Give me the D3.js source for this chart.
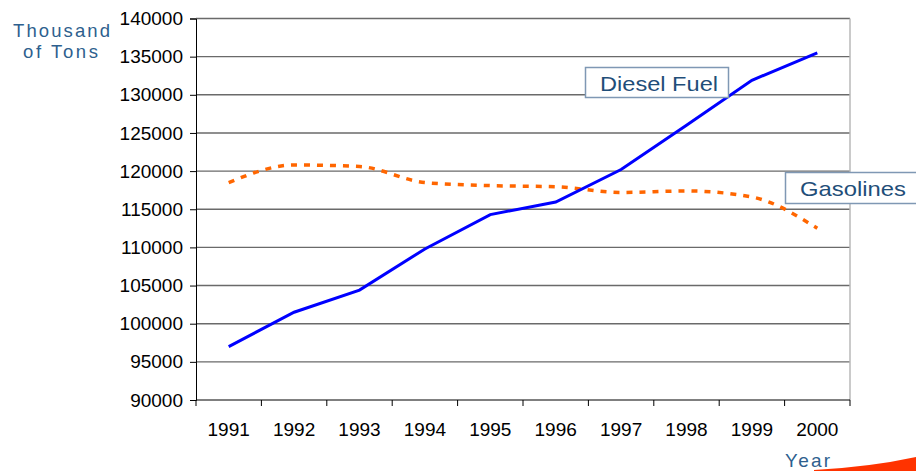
<!DOCTYPE html>
<html>
<head>
<meta charset="utf-8">
<script src="https://cdn.jsdelivr.net/npm/d3@7"></script>
<style>
  body { margin: 0; background: #fff; }
  svg { display: block; font-family: "Liberation Sans", Arial, sans-serif; }
</style>
</head>
<body>
<div id="chart"></div>
<script>
// donnees du graphique
const years = ["1991", "1992", "1993", "1994", "1995", "1996", "1997", "1998", "1999", "2000"];
const diesel = [97000, 101500, 104400, 109800, 114300, 115950, 120200, 126000, 131900, 135500];
const gasolines = [118500, 120800, 120600, 118500, 118100, 117950, 117200, 117400, 116600, 112500];
const yTicks = [90000, 95000, 100000, 105000, 110000, 115000, 120000, 125000, 130000, 135000, 140000];

const W = 916, H = 471;
const margin = { top: 18.5, right: 66, bottom: 71, left: 196 };
const width = W - margin.left - margin.right;
const height = H - margin.top - margin.bottom;

const svg = d3.select("#chart").append("svg")
    .attr("width", W)
    .attr("height", H);

const g = svg.append("g")
    .attr("transform", "translate(" + margin.left + "," + margin.top + ")");

// echelles
const x = d3.scaleBand().domain(years).range([0, width]);
const y = d3.scaleLinear().domain([90000, 140000]).range([height, 0]);

// lignes de grille
g.selectAll(".grid")
    .data(yTicks.slice(1))
    .enter()
    .append("line")
    .attr("x1", 0).attr("x2", width)
    .attr("y1", d => y(d)).attr("y2", d => y(d))
    .attr("stroke", "#6a6a6a")
    .attr("stroke-width", 1.4);

// bord droit
g.append("line")
    .attr("x1", width).attr("x2", width)
    .attr("y1", 0).attr("y2", height)
    .attr("stroke", "#b8b8b8")
    .attr("stroke-width", 1.5);

// axe Y
const yAxis = d3.axisLeft(y).tickValues(yTicks).tickSize(6).tickPadding(7).tickFormat(d3.format("d"));
g.append("g")
    .call(yAxis)
    .call(s => s.select(".domain").attr("stroke", "#000"))
    .selectAll("text")
    .attr("font-size", 19)
    .attr("fill", "#000");

// axe X, graduations entre les categories
const xAxisG = g.append("g").attr("transform", "translate(0," + height + ")");
xAxisG.append("line")
    .attr("x1", 0).attr("x2", width)
    .attr("stroke", "#000").attr("stroke-width", 1);
xAxisG.selectAll(".xt")
    .data(years.concat(["end"]))
    .enter()
    .append("line")
    .attr("x1", (d, i) => i < years.length ? x(d) : width)
    .attr("x2", (d, i) => i < years.length ? x(d) : width)
    .attr("y1", 0).attr("y2", 6)
    .attr("stroke", "#000");
xAxisG.selectAll("text")
    .data(years)
    .enter()
    .append("text")
    .attr("x", d => x(d) + x.bandwidth() / 2)
    .attr("y", 36)
    .attr("text-anchor", "middle")
    .attr("font-size", 19)
    .attr("fill", "#000")
    .text(d => d);

const cx = (d, i) => x(years[i]) + x.bandwidth() / 2;

// essence, courbe lissee pointillee
g.append("path")
    .datum(gasolines)
    .attr("fill", "none")
    .attr("stroke", "#FF6600")
    .attr("stroke-width", 3.5)
    .attr("stroke-dasharray", "6,7")
    .attr("d", d3.line().x(cx).y(d => y(d)).curve(d3.curveMonotoneX));

// diesel
g.append("path")
    .datum(diesel)
    .attr("fill", "none")
    .attr("stroke", "#0000FF")
    .attr("stroke-width", 3)
    .attr("d", d3.line().x(cx).y(d => y(d)));

// etiquettes des series
const labels = [
    { text: "Diesel Fuel", x: 585.5, y: 67.5, w: 143, h: 30, tx: 600, len: 118 },
    { text: "Gasolines", x: 785.5, y: 172.5, w: 140, h: 31, tx: 800, len: 106 }
];
labels.forEach(l => {
    svg.append("rect")
        .attr("x", l.x).attr("y", l.y)
        .attr("width", l.w).attr("height", l.h)
        .attr("fill", "#fff")
        .attr("stroke", "#7f98b4")
        .attr("stroke-width", 1.5);
    svg.append("text")
        .attr("x", l.tx).attr("y", l.y + l.h / 2 + 8)
        .attr("font-size", 21)
        .attr("textLength", l.len)
        .attr("lengthAdjust", "spacingAndGlyphs")
        .attr("fill", "#1F4E79")
        .text(l.text);
});

// titres des axes
const yTitle = svg.append("text")
    .attr("font-size", 18.5)
    .attr("fill", "#2e5f8e");
yTitle.append("tspan").attr("x", 13).attr("y", 37)
    .attr("textLength", 97).attr("lengthAdjust", "spacing").text("Thousand");
yTitle.append("tspan").attr("x", 23).attr("y", 58)
    .attr("textLength", 75).attr("lengthAdjust", "spacing").text("of Tons");

// trait decoratif rouge
svg.append("path")
    .attr("d", "M814,470 Q870,467 916,457 L916,471 L814,471 Z")
    .attr("fill", "#FF3300");

svg.append("text")
    .attr("x", 785).attr("y", 467)
    .attr("font-size", 19)
    .attr("textLength", 45)
    .attr("lengthAdjust", "spacing")
    .attr("fill", "#2e5f8e")
    .text("Year");
</script>
</body>
</html>
